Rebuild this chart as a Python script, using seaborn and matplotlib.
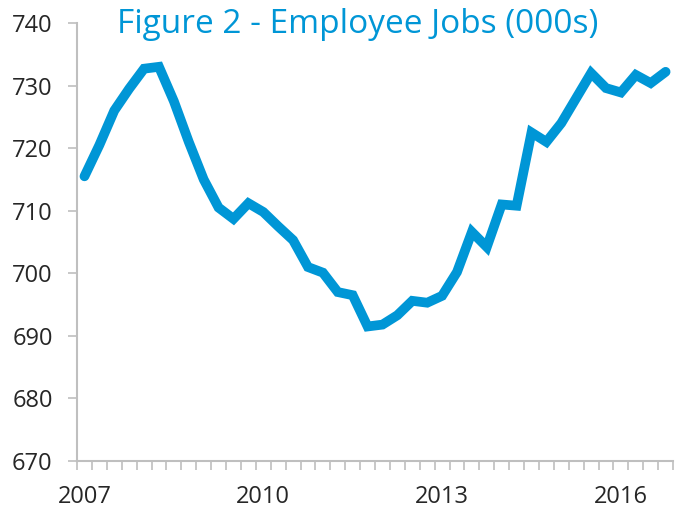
import numpy as np
import pandas as pd
import seaborn as sns
import matplotlib
import matplotlib.pyplot as plt
from matplotlib.ticker import FixedLocator

# quarterly employee jobs (000s), 2007 Q1 - 2016 Q4
jobs = [715.5, 720.5, 726.0, 729.5, 732.7, 733.0, 727.5, 721.0, 715.0, 710.5,
        708.7, 711.2, 709.8, 707.5, 705.3, 701.0, 700.1, 697.0, 696.5, 691.5,
        691.8, 693.3, 695.6, 695.3, 696.4, 700.2, 706.6, 704.2, 711.0, 710.8,
        722.5, 721.0, 724.0, 728.0, 732.0, 729.6, 728.9, 731.7, 730.4, 732.2]
year_labels = ['2007', '2010', '2013', '2016']
y_ticks = [670, 680, 690, 700, 710, 720, 730, 740]

df = pd.DataFrame({'quarter': np.arange(len(jobs)), 'jobs': jobs})

sns.set_style('white')
matplotlib.rcParams['font.family'] = ['Open Sans', 'DejaVu Sans']

blue = '#0096d6'
grey = '#bfbfbf'

fig = plt.figure(figsize=(6.84, 5.08), dpi=100)
ax = fig.add_axes([0.1126, 0.0925, 0.8714, 0.8622])

sns.lineplot(data=df, x='quarter', y='jobs', color=blue, linewidth=7,
             solid_capstyle='round', solid_joinstyle='miter', ax=ax)

ax.set_xlim(-0.5, len(jobs) - 0.5)
ax.set_ylim(670, 740)
ax.set_yticks(y_ticks)
ax.set_yticklabels([str(v) for v in y_ticks], fontsize=17)

# year labels centred on first quarter of each year, tick marks at quarter boundaries
ax.set_xticks([0, 12, 24, 36])
ax.set_xticklabels(year_labels, fontsize=17)
ax.xaxis.set_minor_locator(FixedLocator(np.arange(-0.5, len(jobs), 1.0)))
ax.tick_params(axis='x', which='major', length=0, pad=17)
ax.tick_params(axis='x', which='minor', length=6.5, width=1.2, color=grey, bottom=True)
ax.tick_params(axis='y', length=6.5, width=1.2, color=grey, pad=11, left=True)

ax.set_xlabel('')
ax.set_ylabel('')
sns.despine(ax=ax)
for side in ['left', 'bottom']:
    ax.spines[side].set_color(grey)
    ax.spines[side].set_linewidth(1.5)

fig.text(0.523, 0.951, 'Figure 2 - Employee Jobs (000s)', color=blue,
         fontsize=24, ha='center', va='center')

fig.savefig('out.png', dpi=100)
